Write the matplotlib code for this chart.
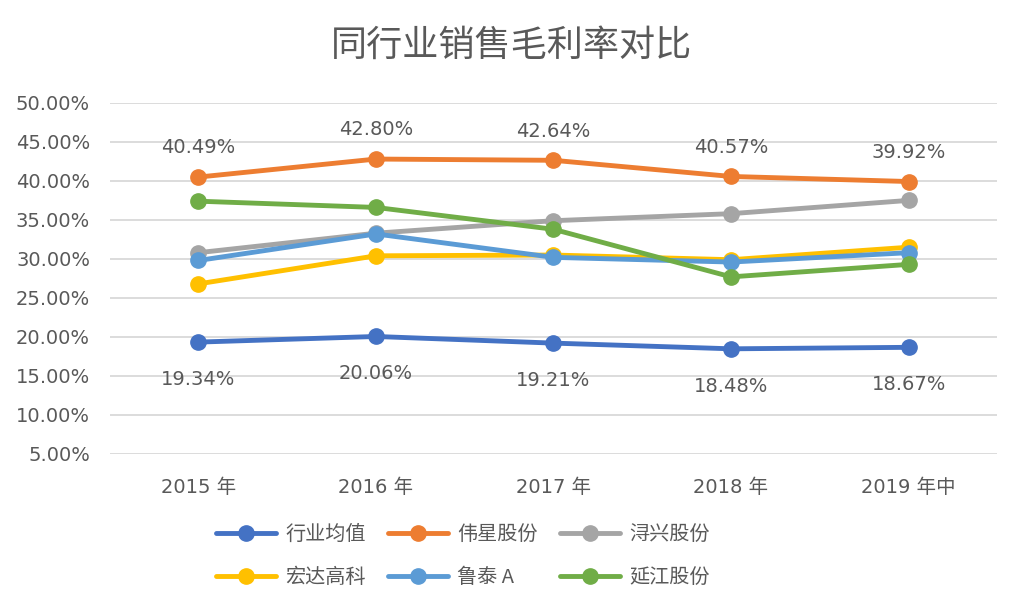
import matplotlib
matplotlib.use("Agg")
import matplotlib.pyplot as plt
from matplotlib.ticker import FuncFormatter

plt.rcParams['font.family'] = ['DejaVu Sans', 'Noto Sans CJK SC']

categories = ["2015 年", "2016 年", "2017 年", "2018 年", "2019 年中"]
series_names = ["行业均值", "伟星股份", "浔兴股份", "宏达高科", "鲁泰 A", "延江股份"]
industry_avg = [19.34, 20.06, 19.21, 18.48, 18.67]
weixing = [40.49, 42.80, 42.64, 40.57, 39.92]
xunxing = [30.8, 33.3, 34.9, 35.8, 37.5]
hongda = [26.8, 30.4, 30.5, 29.9, 31.5]
lutai = [29.8, 33.2, 30.2, 29.6, 30.8]
yanjiang = [37.4, 36.6, 33.8, 27.7, 29.3]
colors = ["#4472C4", "#ED7D31", "#A5A5A5", "#FFC000", "#5B9BD5", "#70AD47"]
yticks = [5, 10, 15, 20, 25, 30, 35, 40, 45, 50]

all_series = [industry_avg, weixing, xunxing, hongda, lutai, yanjiang]
text_color = "#595959"
cjk = ['Noto Sans CJK SC', 'DejaVu Sans']

fig = plt.figure(figsize=(10.24, 6.16), dpi=100)
ax = fig.add_axes([0.107, 0.263, 0.867, 0.570])

x = list(range(len(categories)))
handles = []
for name, vals, c in zip(series_names, all_series, colors):
    h, = ax.plot(x, vals, color=c, lw=3.5, marker='o', ms=11,
                 solid_capstyle='round', label=name)
    handles.append(h)

for xi, v in zip(x, weixing):
    ax.annotate(f"{v:.2f}%", (xi, v), xytext=(0, 21), textcoords='offset points',
                ha='center', va='center', fontsize=14, color=text_color)
for xi, v in zip(x, industry_avg):
    ax.annotate(f"{v:.2f}%", (xi, v), xytext=(0, -27), textcoords='offset points',
                ha='center', va='center', fontsize=14, color=text_color)

ax.set_xlim(-0.5, len(categories) - 0.5)
ax.set_ylim(5, 50)
ax.set_yticks(yticks)
ax.yaxis.set_major_formatter(FuncFormatter(lambda v, p: f"{v:.2f}%"))
ax.set_xticks(x)
ax.set_xticklabels(categories)
ax.tick_params(axis='both', length=0, labelsize=14, colors=text_color)
ax.tick_params(axis='x', pad=17)
ax.tick_params(axis='y', pad=14)
ax.grid(axis='y', color='#D9D9D9', lw=1.3)
ax.set_axisbelow(True)
for s in ax.spines.values():
    s.set_visible(False)

fig.text(0.5, 0.925, "同行业销售毛利率对比", ha='center', va='center',
         fontsize=26, color=text_color, family=cjk)

order = [0, 3, 1, 4, 2, 5]
leg = fig.legend(handles=[handles[i] for i in order],
                 labels=[series_names[i] for i in order],
                 loc='center', bbox_to_anchor=(0.452, 0.097),
                 ncol=3, frameon=False, handlelength=3.0,
                 columnspacing=1.1, labelcolor=text_color, handletextpad=0.45,
                 labelspacing=1.1, prop={'family': cjk, 'size': 14.5})

fig.savefig("out.png", dpi=100)
